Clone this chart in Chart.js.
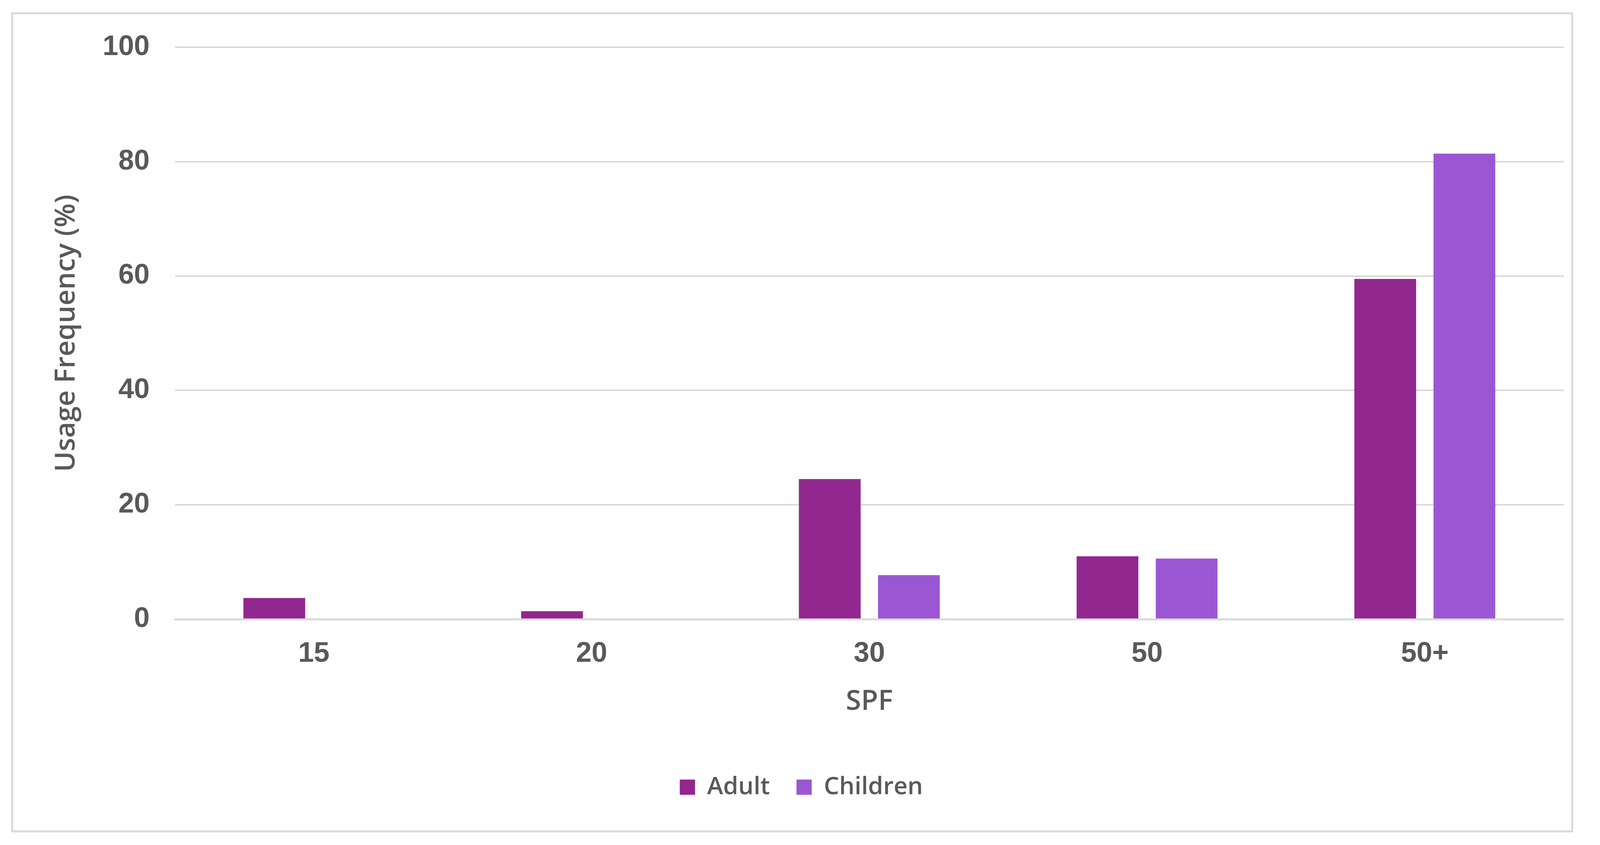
<!DOCTYPE html>
<html>
<head>
<meta charset="utf-8">
<script src="https://cdn.jsdelivr.net/npm/chart.js@4"></script>
<style>
  html, body { margin: 0; padding: 0; background: #fff; }
  #wrap { position: relative; width: 4121px; height: 2163px; }
</style>
</head>
<body>
<div id="wrap"><canvas id="spfChart"></canvas></div>
<script>
// SPF usage data
const spfLabels = ['15', '20', '30', '50', '50+'];
const adultValues = [3.7, 1.4, 24.5, 11.0, 59.5];
const childValues = [0, 0, 7.7, 10.6, 81.4];
const yTicks = [0, 20, 40, 60, 80, 100];

const textGrey = '#595959';
const gridGrey = '#d9d9d9';

// frame round the whole chart, like the office chart border
const framePlugin = {
  id: 'frame',
  beforeDraw(chart) {
    const ctx = chart.ctx;
    ctx.save();
    ctx.fillStyle = '#fff';
    ctx.fillRect(0, 0, chart.width, chart.height);
    ctx.strokeStyle = gridGrey;
    ctx.lineWidth = 5;
    ctx.strokeRect(31, 34, 3994, 2094);
    ctx.restore();
  }
};

const ctx = document.getElementById('spfChart').getContext('2d');
new Chart(ctx, {
  type: 'bar',
  data: {
    labels: spfLabels,
    datasets: [
      { label: 'Adult', data: adultValues, backgroundColor: '#92278f' },
      { label: 'Children', data: childValues, backgroundColor: '#9b57d3' }
    ]
  },
  options: {
    responsive: true,
    maintainAspectRatio: false,
    devicePixelRatio: 1,
    animation: false,
    layout: { padding: { left: 100, right: 118, top: 121, bottom: 107 } },
    datasets: { bar: { categoryPercentage: 0.57, barPercentage: 0.78 } },
    plugins: {
      tooltip: { enabled: false },
      legend: {
        position: 'bottom',
        labels: {
          color: textGrey,
          font: { family: 'Open Sans', size: 62, weight: '600' },
          boxWidth: 39,
          boxHeight: 39,
          padding: 68
        }
      }
    },
    scales: {
      x: {
        grid: { display: false, drawTicks: false },
        border: { color: gridGrey, width: 5 },
        ticks: {
          color: textGrey,
          padding: 46,
          font: { family: 'Liberation Sans', size: 72, weight: 'bold' }
        },
        title: {
          display: true,
          text: 'SPF',
          color: textGrey,
          padding: { top: 0, bottom: 77 },
          font: { family: 'Open Sans', size: 71, weight: '600' }
        },
        afterFit(scale) { scale.height = 331; }
      },
      y: {
        min: 0,
        max: 100,
        afterBuildTicks(scale) { scale.ticks = yTicks.map(v => ({ value: v })); },
        grid: { color: gridGrey, lineWidth: 4, drawTicks: false },
        border: { display: false },
        ticks: {
          color: textGrey,
          padding: 65,
          font: { family: 'Liberation Sans', size: 72, weight: 'bold' }
        },
        title: {
          display: true,
          text: 'Usage Frequency (%)',
          color: textGrey,
          padding: { top: 28, bottom: 0 },
          font: { family: 'Open Sans', size: 71, weight: '600' }
        },
        afterFit(scale) { scale.width = 348; }
      }
    }
  },
  plugins: [framePlugin]
});
</script>
</body>
</html>
